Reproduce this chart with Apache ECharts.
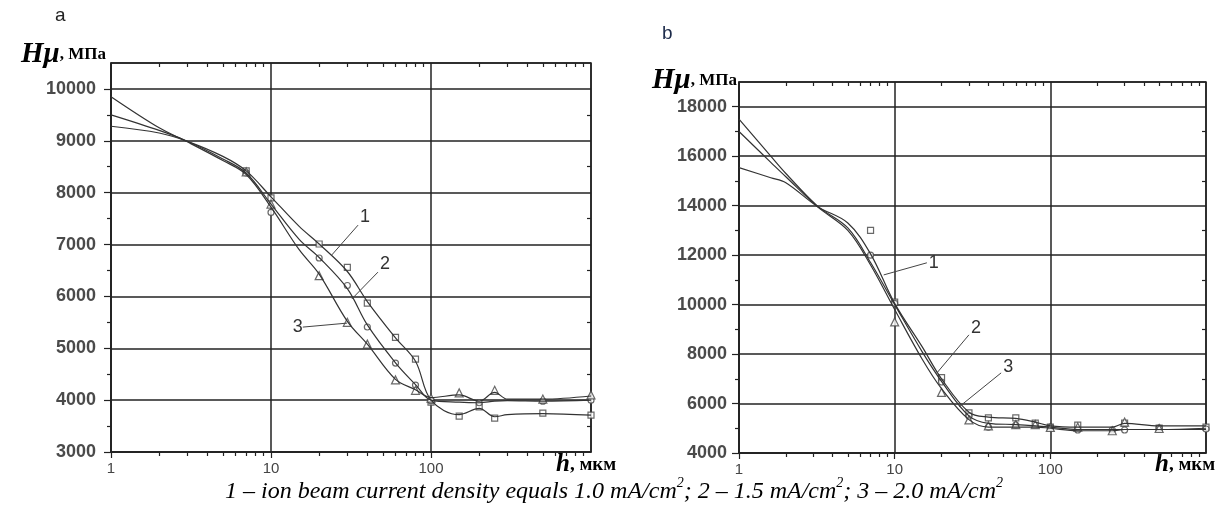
<!DOCTYPE html>
<html>
<head>
<meta charset="utf-8">
<script src="https://cdn.jsdelivr.net/npm/echarts@6/dist/echarts.min.js"></script>
<style>
  html, body { margin: 0; padding: 0; background: #fff; }
  #chart { width: 1219px; height: 515px; }
</style>
</head>
<body>
<div id="chart"></div>
<script>
// depth h, mkm (log axis)
var xA = [1, 2, 3, 5, 7, 10, 15, 20, 30, 40, 60, 80, 100, 150, 200, 250, 300, 500, 1000];
var curveA1 = [9280, 9150, 8990, 8700, 8420, 7920, 7350, 7010, 6480, 5900, 5200, 4750, 4000, 3720, 3840, 3680, 3720, 3740, 3710];
var curveA2 = [9500, 9200, 8990, 8650, 8380, 7780, 7100, 6750, 6150, 5450, 4720, 4300, 4000, 3960, 3950, 3980, 3990, 3980, 4000];
var curveA3 = [9850, 9250, 8980, 8620, 8350, 7720, 6900, 6430, 5520, 5080, 4400, 4200, 4050, 4100, 3980, 4150, 4020, 4020, 4080];

// measured points, chart a
var pointsA1 = [[7, 8420], [10, 7900], [20, 7010], [30, 6560], [40, 5870], [60, 5210], [80, 4790], [100, 3960], [150, 3690], [200, 3870], [250, 3655], [500, 3750], [1000, 3710]];
var pointsA2 = [[7, 8380], [10, 7620], [20, 6740], [30, 6210], [40, 5410], [60, 4715], [80, 4290], [100, 3990], [200, 3950], [500, 3980], [1000, 4000]];
var pointsA3 = [[7, 8400], [10, 7780], [20, 6400], [30, 5500], [40, 5080], [60, 4390], [80, 4190], [100, 4040], [150, 4140], [250, 4190], [500, 4020], [1000, 4100]];

var xB = [1, 1.6, 2, 3.2, 5, 7, 10, 15, 20, 30, 40, 60, 80, 100, 150, 250, 300, 500, 1000];
var curveB1 = [15540, 15130, 14930, 13960, 13300, 12050, 10050, 8300, 7000, 5650, 5450, 5400, 5250, 5100, 5050, 5050, 5200, 5100, 5100];
var curveB2 = [17500, 16000, 15300, 13980, 13100, 11700, 10000, 8100, 6900, 5500, 5200, 5150, 5100, 5050, 4950, 4950, 4950, 4950, 4950];
var curveB3 = [17000, 15750, 15170, 13950, 13000, 11600, 9800, 7800, 6600, 5350, 5050, 5050, 5050, 5000, 4900, 4900, 4950, 4950, 5000];

var pointsB1 = [[7, 13000], [10, 10100], [20, 7050], [30, 5620], [40, 5420], [60, 5420], [80, 5210], [100, 5050], [150, 5130], [300, 5210], [500, 5010], [1000, 5050]];
var pointsB2 = [[7, 12000], [10, 10050], [20, 6870], [30, 5500], [40, 5050], [60, 5130], [100, 5050], [150, 4930], [250, 4930], [300, 4930], [500, 5010], [1000, 4970]];
var pointsB3 = [[10, 9300], [20, 6450], [30, 5340], [40, 5100], [60, 5150], [80, 5150], [100, 5030], [150, 5050], [250, 4900], [300, 5250], [500, 4990]];

// curve number callouts: [label, point on curve, end of leader]
var calloutsA = [['1', [24, 6800], [35, 7374]], ['2', [32, 5950], [46.6, 6468]], ['3', [29.9, 5485], [15.8, 5408]]];
var calloutsB = [['1', [8.5, 11200], [16.1, 11690]], ['2', [18.7, 7240], [30, 8777]], ['3', [25.9, 5862], [48.3, 7239]]];
var calloutOffsetsA = [[0, -8], [0, -8], [-12, 0]];
var calloutOffsetsB = [[0, 0], [0, -7], [0, -6]];

var minorX = [2, 3, 4, 5, 6, 7, 8, 9, 20, 30, 40, 50, 60, 70, 80, 90, 200, 300, 400, 500, 600, 700, 800, 900];
var minorYA = [3500, 4500, 5500, 6500, 7500, 8500, 9500];
var minorYB = [5000, 7000, 9000, 11000, 13000, 15000, 17000];

var ink = '#222';
var chart = echarts.init(document.getElementById('chart'));

function pairs(xs, ys) {
	return xs.map(function (x, i) { return [x, ys[i]]; });
}

function xAxes(g) {
	return [{
		type: 'log', logBase: 10, gridIndex: g, min: 1, max: 1000, position: 'bottom',
		axisLine: { show: true, lineStyle: { color: ink, width: 1.5 } },
		axisTick: { show: true, length: 6, lineStyle: { color: ink, width: 1.2 } },
		axisLabel: { color: '#444', fontSize: 15, fontFamily: 'Liberation Sans', margin: 9, showMaxLabel: false, formatter: function (v) { return String(v); } },
		splitLine: { show: true, lineStyle: { color: ink, width: 1.5 } }
	}, {
		type: 'log', logBase: 10, gridIndex: g, min: 1, max: 1000, position: 'bottom',
		axisLine: { show: false },
		axisTick: { show: true, length: 4, customValues: minorX, lineStyle: { color: ink, width: 1.2 } },
		axisLabel: { show: false }, splitLine: { show: false }
	}, {
		type: 'log', logBase: 10, gridIndex: g, min: 1, max: 1000, position: 'top',
		axisLine: { show: false },
		axisTick: { show: true, inside: true, length: 4, customValues: minorX, lineStyle: { color: ink, width: 1.2 } },
		axisLabel: { show: false }, splitLine: { show: false }
	}];
}

function yAxes(g, min, max, step, minor, gap) {
	return [{
		type: 'value', gridIndex: g, min: min, max: max, interval: step, position: 'left',
		axisLine: { show: true, lineStyle: { color: ink, width: 1.5 } },
		axisTick: { show: true, length: 7, lineStyle: { color: ink, width: 1.2 } },
		axisLabel: { color: '#4a4a4a', fontSize: 18, fontWeight: 'bold', fontFamily: 'Liberation Sans', margin: gap, showMaxLabel: false, formatter: function (v) { return String(v); } },
		splitLine: { show: true, lineStyle: { color: ink, width: 1.5 } }
	}, {
		type: 'value', gridIndex: g, min: min, max: max, position: 'left',
		axisLine: { show: false },
		axisTick: { show: true, length: 4, customValues: minor, lineStyle: { color: ink, width: 1.2 } },
		axisLabel: { show: false }, splitLine: { show: false }
	}, {
		type: 'value', gridIndex: g, min: min, max: max, position: 'right',
		axisLine: { show: false },
		axisTick: { show: true, inside: true, length: 4, customValues: minor, lineStyle: { color: ink, width: 1.2 } },
		axisLabel: { show: false }, splitLine: { show: false }
	}];
}

var symbols = ['rect', 'circle', 'triangle'];

function curveSeries(axis, xs, ys) {
	return {
		type: 'line', xAxisIndex: axis, yAxisIndex: axis, data: pairs(xs, ys),
		smooth: 0.35, symbol: 'none', silent: true,
		lineStyle: { color: '#333', width: 1.2 }
	};
}

function pointSeries(axis, pts, k) {
	return {
		type: 'scatter', xAxisIndex: axis, yAxisIndex: axis, data: pts,
		symbol: symbols[k], symbolSize: k === 2 ? 8 : 6,
		itemStyle: { color: '#fff', borderColor: '#444', borderWidth: 1.2 }
	};
}

function calloutSeries(axis, c, off) {
	return {
		type: 'line', xAxisIndex: axis, yAxisIndex: axis, data: [c[1], c[2]],
		symbol: 'none', silent: true,
		lineStyle: { color: '#444', width: 1 },
		endLabel: {
			show: true, formatter: c[0], color: '#333', fontSize: 18, fontFamily: 'Liberation Sans',
			distance: 2, offset: off
		}
	};
}

var series = [
	curveSeries(0, xA, curveA1), curveSeries(0, xA, curveA2), curveSeries(0, xA, curveA3),
	pointSeries(0, pointsA1, 0), pointSeries(0, pointsA2, 1), pointSeries(0, pointsA3, 2),
	curveSeries(3, xB, curveB1), curveSeries(3, xB, curveB2), curveSeries(3, xB, curveB3),
	pointSeries(3, pointsB1, 0), pointSeries(3, pointsB2, 1), pointSeries(3, pointsB3, 2)
];
calloutsA.forEach(function (c, i) { series.push(calloutSeries(0, c, calloutOffsetsA[i])); });
calloutsB.forEach(function (c, i) { series.push(calloutSeries(3, c, calloutOffsetsB[i])); });

var nameRich = {
	h: { fontFamily: 'Liberation Serif', fontStyle: 'italic', fontWeight: 'bold', fontSize: 29, color: '#111' },
	u: { fontFamily: 'Liberation Serif', fontWeight: 'bold', fontSize: 17, color: '#111' }
};
var hRich = {
	h: { fontFamily: 'Liberation Serif', fontStyle: 'italic', fontWeight: 'bold', fontSize: 25, color: '#111' },
	u: { fontFamily: 'Liberation Serif', fontWeight: 'bold', fontSize: 19, color: '#111' }
};
var capRich = {
	i: { fontFamily: 'Liberation Serif', fontStyle: 'italic', fontSize: 24, color: '#000', lineHeight: 27, verticalAlign: 'bottom' },
	s: { fontFamily: 'Liberation Serif', fontStyle: 'italic', fontSize: 14, color: '#000', lineHeight: 27, verticalAlign: 'top' }
};

var option = {
	backgroundColor: '#fff',
	animation: false,
	grid: [
		{ left: 111, top: 63, width: 480, height: 389, show: true, borderColor: ink, borderWidth: 1.5 },
		{ left: 739, top: 82, width: 467, height: 371, show: true, borderColor: ink, borderWidth: 1.5 }
	],
	xAxis: xAxes(0).concat(xAxes(1)),
	yAxis: yAxes(0, 3000, 10500, 1000, minorYA, 15).concat(yAxes(1, 4000, 19000, 2000, minorYB, 12)),
	series: series,
	graphic: [
		{ type: 'text', left: 55, top: 6, style: { text: 'a', font: '19px "Liberation Sans"', fill: '#222' } },
		{ type: 'text', left: 662, top: 24, style: { text: 'b', font: '19px "Liberation Sans"', fill: '#1c2a4a' } },
		{ type: 'text', x: 106, y: 69, style: { text: '{h|Hμ}{u|, МПа}', rich: nameRich, align: 'right', verticalAlign: 'bottom' } },
		{ type: 'text', x: 737, y: 95, style: { text: '{h|Hμ}{u|, МПа}', rich: nameRich, align: 'right', verticalAlign: 'bottom' } },
		{ type: 'text', x: 556, y: 465, style: { text: '{h|h}{u|, мкм}', rich: hRich, align: 'left', verticalAlign: 'middle' } },
		{ type: 'text', x: 1155, y: 465, style: { text: '{h|h}{u|, мкм}', rich: hRich, align: 'left', verticalAlign: 'middle' } },
		{
			type: 'text', x: 614, y: 490,
			style: {
				text: '{i|1 – ion beam current density equals 1.0 mA/cm}{s|2}{i|; 2 – 1.5 mA/cm}{s|2}{i|; 3 – 2.0 mA/cm}{s|2}',
				rich: capRich, align: 'center', verticalAlign: 'middle'
			}
		}
	]
};

chart.setOption(option);
</script>
</body>
</html>
